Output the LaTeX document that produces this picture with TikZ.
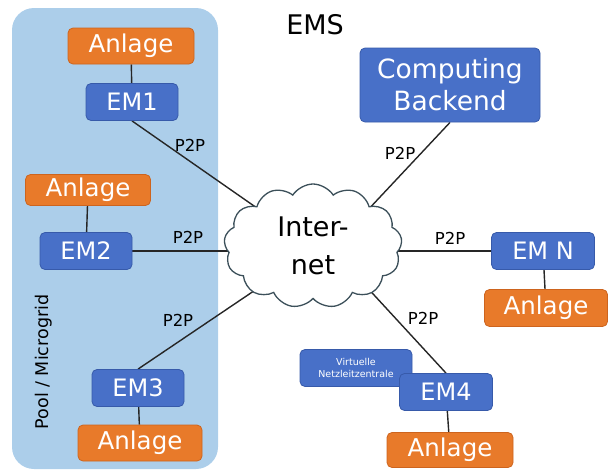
\documentclass[tikz,border=0pt]{standalone}
\usepackage{fontspec}
\setmainfont{DejaVu Sans}
\usetikzlibrary{shapes.symbols,backgrounds}
\definecolor{poolblue}{RGB}{172,206,234}
\definecolor{emblue}{RGB}{72,112,200}
\definecolor{emborder}{RGB}{55,90,170}
\definecolor{anlorange}{RGB}{232,122,42}
\definecolor{anlborder}{RGB}{205,100,30}
\definecolor{cloudline}{RGB}{60,80,90}
\tikzset{
  embox/.style={draw=emborder, line width=0.8pt, fill=emblue, rounded corners=5pt, text=white,
    font=\fontsize{24}{26}\selectfont, minimum width=92pt, minimum height=37pt, inner sep=0pt},
  anlbox/.style={draw=anlborder, line width=0.8pt, fill=anlorange, rounded corners=5pt, text=white,
    font=\fontsize{24.5}{26}\selectfont, minimum width=126pt, minimum height=36pt, inner sep=0pt},
  p2p/.style={font=\fontsize{16.5}{18}\selectfont, inner sep=0pt},
  link/.style={line width=1.4pt, black!85}
}
\begin{document}
\begin{tikzpicture}[x=1pt,y=-1pt]
\useasboundingbox (0,0) rectangle (609,474);
% nodes
\node[anlbox] (a1) at (131,46) {Anlage};
\node[embox] (em1) at (132,102) {EM1};
\node[anlbox, minimum width=125pt, minimum height=31pt] (a2) at (88,190) {Anlage};
\node[embox] (em2) at (86,251) {EM2};
\node[embox] (em3) at (138,388) {EM3};
\node[anlbox, minimum width=124pt] (a3) at (140,443) {Anlage};
\node[rotate=90, font=\fontsize{17.5}{19}\selectfont] (pool) at (44,362) {Pool / Microgrid};
\node[font=\fontsize{27}{29}\selectfont] (ems) at (315,25) {EMS};
\node[embox, minimum width=180pt, minimum height=74pt, align=center,
      font=\fontsize{26.5}{32}\selectfont] (cb) at (450,85) {Computing\\Backend};
\node[embox, minimum width=103pt] (emn) at (543,251) {EM N};
\node[anlbox, minimum width=123pt, minimum height=37pt] (an) at (546,308) {Anlage};
\node[embox, draw=emborder, minimum width=112pt, minimum height=37pt, align=center,
      font=\fontsize{9.5}{12}\selectfont] (vn) at (356,368) {Virtuelle\\Netzleitzentrale};
\node[embox, minimum width=93pt] (em4) at (446,392) {EM4};
\node[anlbox, minimum width=126pt, minimum height=35pt] (a4) at (450,450) {Anlage};
\node[cloud, cloud puffs=13, cloud puff arc=115, aspect=1.45, draw=cloudline, line width=1.3pt,
      fill=white, minimum width=178pt, minimum height=124pt, inner sep=0pt, align=center,
      font=\fontsize{27}{38}\selectfont] (cloud) at (313,246) {Inter-\\net};
\coordinate (hub1) at (310,245);
\coordinate (hub3) at (322,245);
\coordinate (hubcb) at (335,245);
\coordinate (hub4) at (328,245);
% P2P labels
\node[p2p] (l1) at (190,145) {P2P};
\node[p2p] (l2) at (188,237) {P2P};
\node[p2p] (l3) at (178,320) {P2P};
\node[p2p] (l4) at (400,153) {P2P};
\node[p2p] (l5) at (450,238) {P2P};
\node[p2p] (l6) at (423,318) {P2P};
\begin{pgfonlayer}{background}
\fill[poolblue, rounded corners=22pt] (12,8) rectangle (218,469);
\draw[link] (a1) -- (em1);
\draw[link] (a2) -- (em2);
\draw[link] (em3) -- (a3);
\draw[link] (emn) -- (an);
\draw[link] (em4) -- (a4);
\draw[link] (em1.south) -- (hub1);
\draw[link] (em2.east) -- (em2.east -| cloud.center);
\draw[link] (em3.north) -- (hub3);
\draw[link] (cb.south) -- (hubcb);
\draw[link] (emn.west) -- (emn.west -| cloud.center);
\draw[link] (em4.north) -- (hub4);
\end{pgfonlayer}
\end{tikzpicture}
\end{document}
